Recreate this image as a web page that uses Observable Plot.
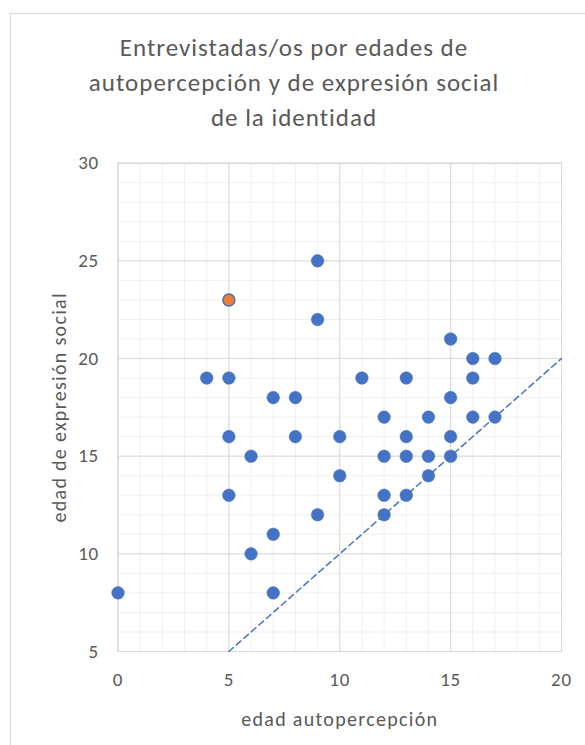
<!DOCTYPE html>
<html>
<head>
<meta charset="utf-8">
<script src="https://cdn.jsdelivr.net/npm/d3@7"></script>
<script src="https://cdn.jsdelivr.net/npm/@observablehq/plot@0.6"></script>
<style>
  html, body { margin: 0; padding: 0; background: #fff; overflow: hidden; }
  #wrap { position: relative; width: 585px; height: 745px; font-family: Carlito, Lato, "Liberation Sans", sans-serif; }
  #box { position: absolute; left: 10px; top: 13px; width: 620px; height: 800px; border: 1px solid #d9d9d9; box-sizing: border-box; }
  #title { position: relative; height: 140px; padding-top: 30px; box-sizing: border-box; margin-left: 10px; width: 568px; text-align: center; color: #595959; font-size: 25px; letter-spacing: 1px; line-height: 35px; font-weight: 300; }
  #chart { position: relative; }
  #chart svg g[aria-label="x-axis tick label"] text, #chart svg g[aria-label="y-axis tick label"] text { font-size: 19px; letter-spacing: 0.8px; }
  #chart svg g[aria-label="x-axis label"] text, #chart svg g[aria-label="y-axis label"] text { font-size: 20px; letter-spacing: 1.3px; }
</style>
</head>
<body>
<div id="wrap">
  <div id="box"></div>
  <div id="title">Entrevistadas/os por edades de<br>autopercepción y de expresión social<br>de la identidad</div>
  <div id="chart"></div>
</div>
<script>
// Data
const autopercepcion = [0, 4, 5, 5, 5, 6, 6, 7, 7, 7, 8, 8, 9, 9, 9, 10, 10, 11, 12, 12, 12, 12, 13, 13, 13, 13, 14, 14, 14, 15, 15, 15, 15, 16, 16, 16, 17, 17];
const expresionSocial = [8, 19, 19, 16, 13, 15, 10, 18, 11, 8, 18, 16, 25, 22, 12, 16, 14, 19, 17, 15, 13, 12, 19, 16, 15, 13, 17, 15, 14, 21, 18, 16, 15, 20, 19, 17, 20, 17];
const highlightX = [5];
const highlightY = [23];
const lineX = [5, 20];
const lineY = [5, 20];
const xTicks = [0, 5, 10, 15, 20];
const yTicks = [5, 10, 15, 20, 25, 30];
const xMinor = d3.range(0, 21, 1);
const yMinor = d3.range(5, 31, 1);

const points = autopercepcion.map((x, i) => ({x, y: expresionSocial[i]}));
const highlight = highlightX.map((x, i) => ({x, y: highlightY[i]}));
const diag = lineX.map((x, i) => ({x, y: lineY[i]}));

const blue = "#4472C4";
const orange = "#ED7D31";
const font = "Carlito, Lato, 'Liberation Sans', sans-serif";

const plot = Plot.plot({
  width: 585,
  height: 605,
  marginTop: 22.7,
  marginBottom: 94,
  marginLeft: 117.5,
  marginRight: 24,
  style: {fontFamily: font, fontSize: "18px", background: "transparent", overflow: "visible", fontWeight: 300},
  x: {domain: [0, 20]},
  y: {domain: [5, 30]},
  marks: [
    Plot.gridX(xMinor, {stroke: "#f0f0f0", strokeOpacity: 1}),
    Plot.gridY(yMinor, {stroke: "#f0f0f0", strokeOpacity: 1}),
    Plot.gridX(xTicks, {stroke: "#d9d9d9", strokeOpacity: 1}),
    Plot.gridY(yTicks, {stroke: "#d9d9d9", strokeOpacity: 1}),
    Plot.frame({stroke: "#d9d9d9"}),
    Plot.axisX(xTicks, {tickSize: 0, tickPadding: 21, fontSize: 19, fill: "#595959", label: "edad autopercepción", labelAnchor: "center", labelArrow: "none", labelOffset: 74}),
    Plot.axisY(yTicks, {tickSize: 0, tickPadding: 19, fontSize: 19, fill: "#595959", label: "edad de expresión social", labelAnchor: "center", labelArrow: "none", labelOffset: 66}),
    Plot.line(diag, {x: "x", y: "y", stroke: blue, strokeWidth: 1.5, strokeDasharray: "6,4"}),
    Plot.dot(points, {x: "x", y: "y", r: 6.3, fill: blue, stroke: blue, strokeWidth: 0.5}),
    Plot.dot(highlight, {x: "x", y: "y", r: 6, fill: orange, stroke: blue, strokeWidth: 1.5})
  ]
});
document.getElementById("chart").appendChild(plot);
</script>
</body>
</html>
